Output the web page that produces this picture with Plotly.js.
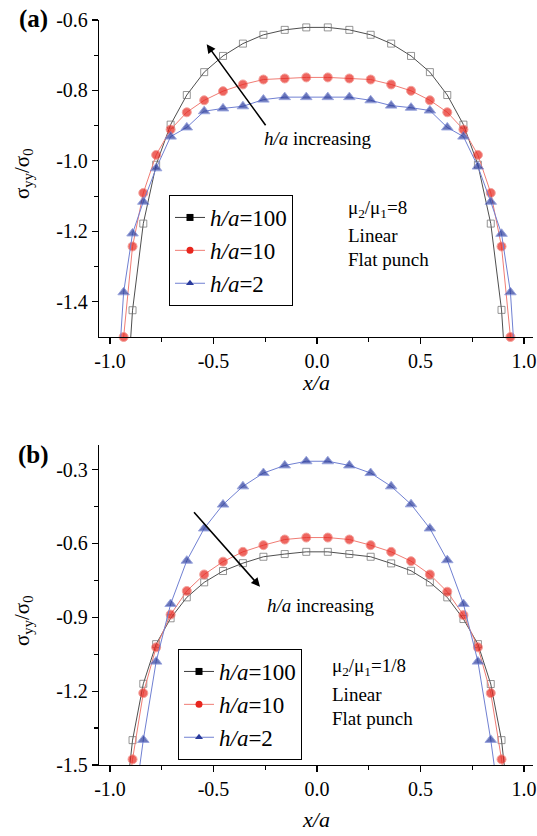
<!DOCTYPE html>
<html>
<head>
<meta charset="utf-8">
<script src="https://cdn.plot.ly/plotly-3.0.1.min.js"></script>
<style>html,body{margin:0;padding:0;background:#fff;}#chart{width:537px;height:836px;}</style>
</head>
<body>
<div id="chart"></div>
<script>
// ---------- data ----------
// Panel (a): mu2/mu1 = 8
const xA_sq  = [-0.934,-0.891,-0.839,-0.777,-0.707,-0.629,-0.545,-0.454,-0.358,-0.259,-0.156,-0.052,
                 0.052, 0.156, 0.259, 0.358, 0.454, 0.545, 0.629, 0.707, 0.777, 0.839, 0.891, 0.934];
const yA_h100 = [-1.80,-1.424,-1.178,-1.011,-0.897,-0.813,-0.748,-0.702,-0.667,-0.642,-0.628,-0.621,
                 -0.621,-0.628,-0.642,-0.667,-0.702,-0.748,-0.813,-0.897,-1.011,-1.178,-1.423,-1.80];
const xA_ct  = [-0.966,-0.934,-0.891,-0.839,-0.777,-0.707,-0.629,-0.545,-0.454,-0.358,-0.259,-0.156,-0.052,
                 0.052, 0.156, 0.259, 0.358, 0.454, 0.545, 0.629, 0.707, 0.777, 0.839, 0.891, 0.934, 0.966];
const yA_h10  = [-1.90,-1.50,-1.243,-1.091,-0.983,-0.911,-0.862,-0.828,-0.802,-0.783,-0.769,-0.766,-0.763,
                 -0.763,-0.766,-0.769,-0.783,-0.801,-0.828,-0.862,-0.911,-0.983,-1.091,-1.243,-1.50,-1.90];
const yA_h2   = [-1.66,-1.373,-1.206,-1.116,-1.021,-0.931,-0.905,-0.859,-0.851,-0.845,-0.826,-0.819,-0.819,
                 -0.819,-0.819,-0.828,-0.843,-0.849,-0.857,-0.905,-0.931,-1.016,-1.116,-1.207,-1.373,-1.66];

// Panel (b): mu2/mu1 = 1/8
const xB_sc  = [-0.934,-0.891,-0.839,-0.777,-0.707,-0.629,-0.545,-0.454,-0.358,-0.259,-0.156,-0.052,
                 0.052, 0.156, 0.259, 0.358, 0.454, 0.545, 0.629, 0.707, 0.777, 0.839, 0.891, 0.934];
const yB_h100 = [-1.73,-1.399,-1.170,-1.009,-0.904,-0.819,-0.758,-0.712,-0.680,-0.654,-0.643,-0.634,
                 -0.634,-0.643,-0.654,-0.681,-0.711,-0.758,-0.819,-0.907,-1.009,-1.171,-1.399,-1.73];
const yB_h10  = [-1.75,-1.477,-1.208,-1.022,-0.889,-0.793,-0.726,-0.674,-0.634,-0.607,-0.584,-0.576,
                 -0.576,-0.584,-0.607,-0.634,-0.672,-0.726,-0.796,-0.891,-1.022,-1.208,-1.477,-1.75];
const xB_t   = [-0.891,-0.839,-0.777,-0.707,-0.629,-0.545,-0.454,-0.358,-0.259,-0.156,-0.052,
                 0.052, 0.156, 0.259, 0.358, 0.454, 0.545, 0.629, 0.707, 0.777, 0.839, 0.891];
const yB_h2   = [-1.72,-1.398,-1.080,-0.846,-0.670,-0.539,-0.442,-0.368,-0.314,-0.283,-0.266,
                 -0.266,-0.283,-0.314,-0.368,-0.441,-0.539,-0.668,-0.846,-1.080,-1.398,-1.72];

const seriesNames = ['<i>h/a</i>=100', '<i>h/a</i>=10', '<i>h/a</i>=2'];

const xTickVals = [-1, -0.5, 0, 0.5, 1];
const xTickText = ['-1.0', '-0.5', '0.0', '0.5', '1.0'];
const yA_TickVals = [-1.4, -1.2, -1.0, -0.8, -0.6];
const yA_TickText = ['-1.4', '-1.2', '-1.0', '-0.8', '-0.6'];
const yB_TickVals = [-1.5, -1.2, -0.9, -0.6, -0.3];
const yB_TickText = ['-1.5', '-1.2', '-0.9', '-0.6', '-0.3'];

// ---------- styling ----------
const W = 537, H = 836;
const FONT = 'Liberation Serif';
const C_SQ_LINE = '#3a3a3a', C_SQ_MK = '#6a6a6a';
const C_RD_LINE = '#f07c74', C_RD_MK = '#e8261e';
const C_BL_LINE = '#7080d2', C_BL_MK = '#2a3b9c';
const YMIN = -1.5;

function px(x) { return x / W; }
function py(y) { return 1 - y / H; }
function sizes(ys, s) { return ys.map(v => (v >= YMIN - 0.005 ? s : 0)); }

function sqTrace(x, y, xa, ya) {
  return {x: x, y: y, xaxis: xa, yaxis: ya, type: 'scatter', mode: 'lines+markers', showlegend: false,
    cliponaxis: false, line: {color: C_SQ_LINE, width: 0.9},
    marker: {symbol: 'square-open', size: sizes(y, 7), color: C_SQ_MK, line: {color: C_SQ_MK, width: 1}}};
}
function rdTrace(x, y, xa, ya) {
  return {x: x, y: y, xaxis: xa, yaxis: ya, type: 'scatter', mode: 'lines+markers', showlegend: false,
    cliponaxis: false, line: {color: C_RD_LINE, width: 1},
    marker: {symbol: 'circle', size: sizes(y, 9), color: C_RD_MK}};
}
function blTrace(x, y, xa, ya) {
  return {x: x, y: y, xaxis: xa, yaxis: ya, type: 'scatter', mode: 'lines+markers', showlegend: false,
    cliponaxis: false, line: {color: C_BL_LINE, width: 1},
    marker: {symbol: 'triangle-up', size: sizes(y, 10), color: C_BL_MK}};
}
function legendTraces(leg, xa, ya) {
  const specs = [
    {sym: 'square', mk: '#000', ln: C_SQ_LINE},
    {sym: 'circle', mk: C_RD_MK, ln: C_RD_LINE},
    {sym: 'triangle-up', mk: C_BL_MK, ln: C_BL_LINE}
  ];
  return specs.map((s, i) => ({
    x: [null], y: [null], xaxis: xa, yaxis: ya, type: 'scatter', mode: 'lines+markers',
    name: seriesNames[i], legend: leg, legendgroup: leg + i,
    line: {color: s.ln, width: 1}, marker: {symbol: s.sym, size: 7, color: s.mk}
  }));
}

const traces = [
  sqTrace(xA_sq, yA_h100, 'x', 'y'),
  rdTrace(xA_ct, yA_h10, 'x', 'y'),
  blTrace(xA_ct, yA_h2, 'x', 'y'),
  sqTrace(xB_sc, yB_h100, 'x2', 'y2'),
  rdTrace(xB_sc, yB_h10, 'x2', 'y2'),
  blTrace(xB_t, yB_h2, 'x2', 'y2'),
  ...legendTraces('legend', 'x', 'y'),
  ...legendTraces('legend2', 'x2', 'y2')
];

const xDom = [px(99), px(533)];
const xRange = [-1.053, 1.043];
function xAxis(anchor, dom) {
  return {domain: dom, range: xRange, anchor: anchor, showline: true, linecolor: '#000', linewidth: 1.2,
    showgrid: false, zeroline: false, ticks: 'outside', ticklen: 6, tickwidth: 1.2, tickcolor: '#000',
    tickmode: 'array', tickvals: xTickVals, ticktext: xTickText,
    tickfont: {family: FONT, size: 20, color: '#000'}, automargin: false,
    minor: {tickmode: 'array', tickvals: [-0.75, -0.25, 0.25, 0.75], ticks: 'outside', ticklen: 4, tickwidth: 1.2, tickcolor: '#000'}};
}
function yAxis(anchor, dom, range, tv, tt, minorVals) {
  return {domain: dom, range: range, anchor: anchor, showline: true, linecolor: '#000', linewidth: 1.2,
    showgrid: false, zeroline: false, ticks: 'outside', ticklen: 6, tickwidth: 1.2, tickcolor: '#000',
    tickmode: 'array', tickvals: tv, ticktext: tt,
    tickfont: {family: FONT, size: 20, color: '#000'}, automargin: false,
    minor: {tickmode: 'array', tickvals: minorVals, ticks: 'outside', ticklen: 4, tickwidth: 1.2, tickcolor: '#000'}};
}

function txt(text, x, y, size, opts) {
  return Object.assign({text: text, xref: 'paper', yref: 'paper', x: px(x), y: py(y), showarrow: false,
    font: {family: FONT, size: size, color: '#000'}, xanchor: 'center', yanchor: 'middle'}, opts || {});
}
function arrow(hx, hy, tx, ty) {
  return {text: '', xref: 'paper', yref: 'paper', x: px(hx), y: py(hy), ax: tx - hx, ay: ty - hy,
    showarrow: true, arrowhead: 2, arrowsize: 1.1, arrowwidth: 1.6, arrowcolor: '#000', standoff: 0};
}

const annotations = [
  txt('<b>(a)</b>', 33, 19, 25),
  txt('<b>(b)</b>', 33, 455, 25),
  txt('σ<sub>yy</sub>/σ<sub>0</sub>', 23, 174, 21, {textangle: -90}),
  txt('σ<sub>yy</sub>/σ<sub>0</sub>', 23, 621, 21, {textangle: -90}),
  txt('<i>x/a</i>', 316, 383, 22),
  txt('<i>x/a</i>', 316, 819, 22),
  txt('<i>h/a</i> increasing', 318, 138, 19),
  txt('<i>h/a</i> increasing', 321, 605, 19),
  txt('μ<sub>2</sub>/μ<sub>1</sub>=8', 346, 209, 19, {xanchor: 'left'}),
  txt('Linear', 346, 235, 19, {xanchor: 'left'}),
  txt('Flat punch', 346, 260, 19, {xanchor: 'left'}),
  txt('μ<sub>2</sub>/μ<sub>1</sub>=1/8', 330, 667, 19, {xanchor: 'left'}),
  txt('Linear', 330, 694, 19, {xanchor: 'left'}),
  txt('Flat punch', 330, 718, 19, {xanchor: 'left'}),
  arrow(206.7, 44.3, 266.7, 126.7),
  arrow(260, 586.7, 192.7, 510.7)
];

const legendCommon = {xanchor: 'left', yanchor: 'top', bordercolor: '#000', borderwidth: 1, bgcolor: '#fff',
  font: {family: FONT, size: 23, color: '#000'}, tracegroupgap: 0, itemwidth: 30, traceorder: 'normal'};

const layout = {
  width: W, height: H,
  margin: {l: 0, r: 0, t: 0, b: 0, pad: 0},
  paper_bgcolor: '#fff', plot_bgcolor: '#fff',
  showlegend: true,
  xaxis: xAxis('y', xDom),
  yaxis: yAxis('x', [py(337), py(20)], [-1.5, -0.6], yA_TickVals, yA_TickText, [-1.3, -1.1, -0.9, -0.7]),
  xaxis2: xAxis('y2', xDom),
  yaxis2: yAxis('x2', [py(765), py(445)], [-1.5, -0.2], yB_TickVals, yB_TickText, [-1.35, -1.05, -0.75, -0.45]),
  legend: Object.assign({x: px(169), y: py(195)}, legendCommon),
  legend2: Object.assign({x: px(178), y: py(649)}, legendCommon),
  annotations: annotations
};

Plotly.newPlot('chart', traces, layout, {staticPlot: true, displayModeBar: false});
</script>
</body>
</html>
